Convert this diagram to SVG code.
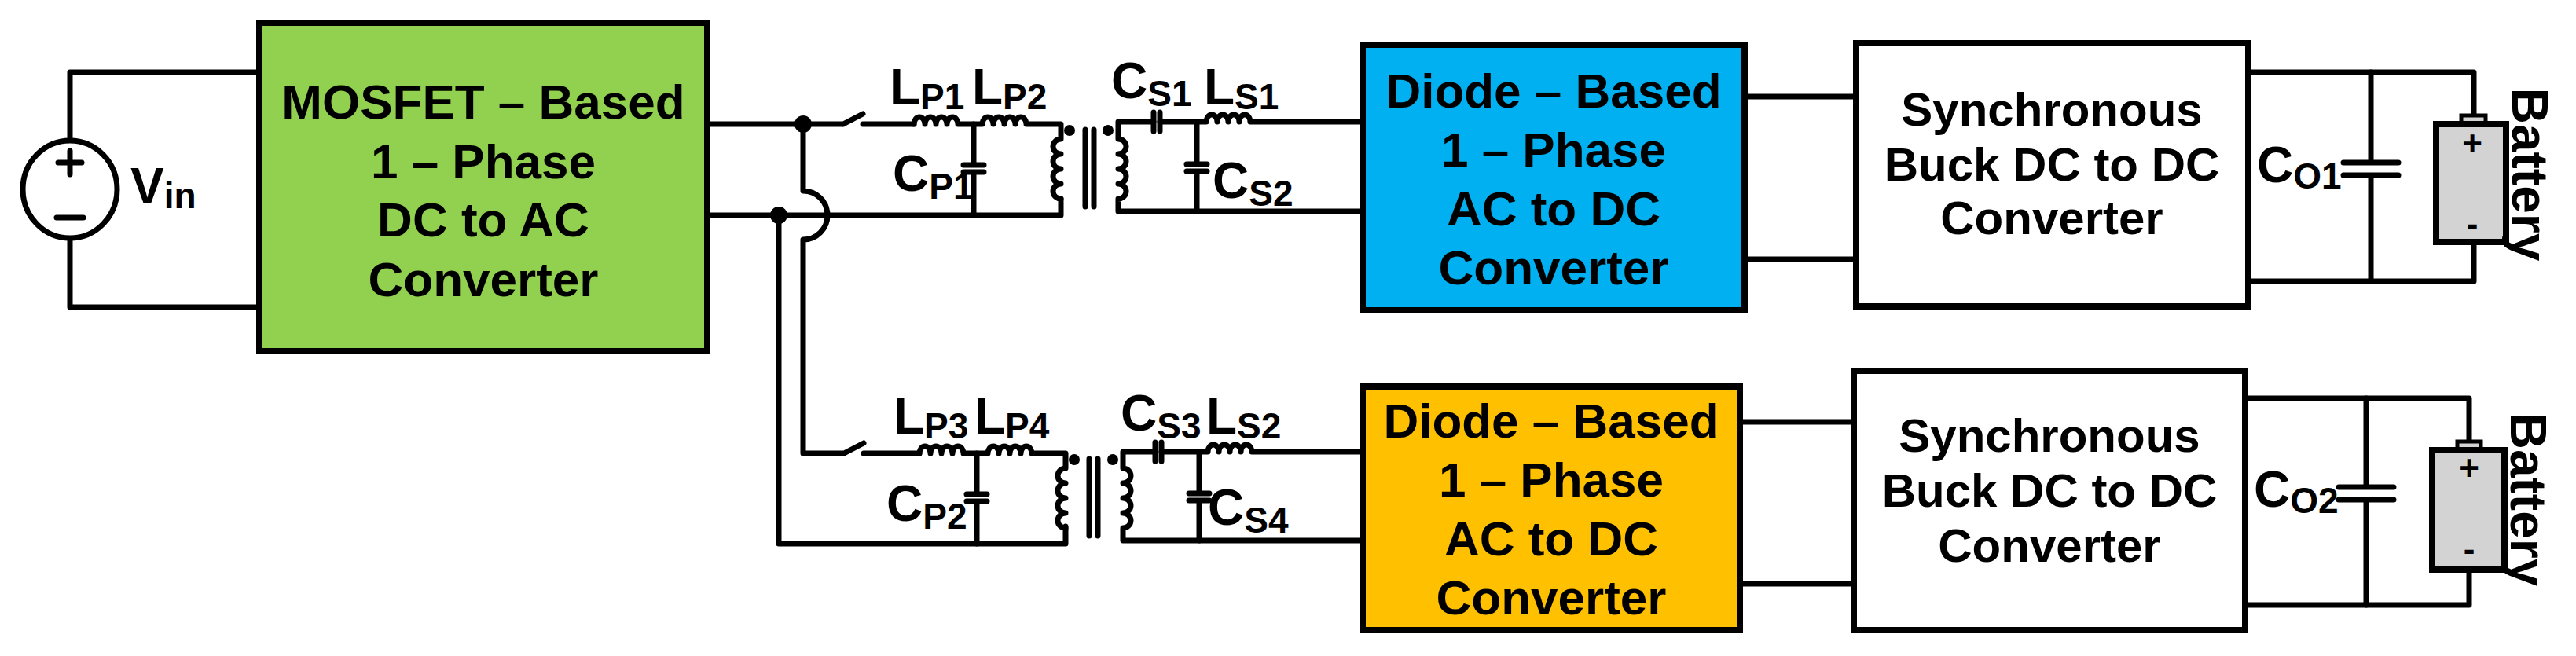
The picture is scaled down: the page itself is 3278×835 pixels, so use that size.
<svg xmlns="http://www.w3.org/2000/svg" width="3278" height="835" viewBox="0 0 3278 835">
<style>
.w{fill:none;stroke:#000;stroke-width:7;stroke-linejoin:round;stroke-linecap:round}
.b{stroke:#000;stroke-width:8}
.t{font-family:"Liberation Sans",Arial,sans-serif;font-weight:bold;font-size:60px;text-anchor:middle;fill:#000}
.l{font-family:"Liberation Sans",Arial,sans-serif;font-weight:bold;font-size:64px;fill:#000}
.s{font-size:46px}
.dot{fill:#000}
</style>
<rect width="3278" height="835" fill="#fff"/>
<g id="connectors">
<path class="w" d="M89,180 V92 H330 M89,303 V391 H330"/>
<path class="w" d="M900,158 H1073 M1098,145 L1073,158 M1098,158 H1163"/>
<path class="w" d="M900,274 H1350 V253"/>
<circle class="dot" cx="1022" cy="158" r="11"/>
<circle class="dot" cx="991" cy="274" r="11"/>
<path class="w" d="M1022,158 V243 A30,30 0 0 1 1022,305 V577 H1074 M1099,564 L1074,577 M1099,577 H1170"/>
<path class="w" d="M991,274 V692 H1356 V670"/>
<path class="w" d="M1163,158 a7,9 0 0 1 14,0 a7,9 0 0 1 14,0 a7,9 0 0 1 14,0 a7,9 0 0 1 14,0 H1250 a7,9 0 0 1 14,0 a7,9 0 0 1 14,0 a7,9 0 0 1 14,0 a7,9 0 0 1 14,0 H1350 V177 a10,9.5 0 0 0 0,19 a10,9.5 0 0 0 0,19 a10,9.5 0 0 0 0,19 a10,9.5 0 0 0 0,19 V253"/>
<path class="w" d="M1239,158 V210 M1239,219 V274 M1226,210 H1252 M1226,219 H1252"/>
<circle class="dot" cx="1361" cy="166" r="7"/>
<path class="w" d="M1381,165 V263 M1392,165 V263"/>
<circle class="dot" cx="1410" cy="166" r="7"/>
<path class="w" d="M1732,155 H1591 a7,9 0 0 0 -14,0 a7,9 0 0 0 -14,0 a7,9 0 0 0 -14,0 a7,9 0 0 0 -14,0 H1476 M1468,155 H1423 V177 a10,9.5 0 0 1 0,19 a10,9.5 0 0 1 0,19 a10,9.5 0 0 1 0,19 a10,9.5 0 0 1 0,19 V269 H1732"/>
<path class="w" d="M1468,143 V167 M1476,143 V167"/>
<path class="w" d="M1523,155 V209 M1523,218 V269 M1510,209 H1536 M1510,218 H1536"/>
<path class="w" d="M1170,577 a7,9 0 0 1 14,0 a7,9 0 0 1 14,0 a7,9 0 0 1 14,0 a7,9 0 0 1 14,0 H1257 a7,9 0 0 1 14,0 a7,9 0 0 1 14,0 a7,9 0 0 1 14,0 a7,9 0 0 1 14,0 H1356 V596 a10,9.5 0 0 0 0,19 a10,9.5 0 0 0 0,19 a10,9.5 0 0 0 0,19 a10,9.5 0 0 0 0,19 V672"/>
<path class="w" d="M1243,577 V629 M1243,638 V692 M1230,629 H1256 M1230,638 H1256"/>
<circle class="dot" cx="1367" cy="585" r="7"/>
<path class="w" d="M1386,584 V682 M1397,584 V682"/>
<circle class="dot" cx="1416" cy="585" r="7"/>
<path class="w" d="M1734,575 H1593 a7,9 0 0 0 -14,0 a7,9 0 0 0 -14,0 a7,9 0 0 0 -14,0 a7,9 0 0 0 -14,0 H1478 M1470,575 H1429 V596 a10,9.5 0 0 1 0,19 a10,9.5 0 0 1 0,19 a10,9.5 0 0 1 0,19 a10,9.5 0 0 1 0,19 V688 H1734"/>
<path class="w" d="M1470,563 V587 M1478,563 V587"/>
<path class="w" d="M1526,575 V628 M1526,637 V688 M1513,628 H1539 M1513,637 H1539"/>
<path class="w" d="M2220,123 H2362 M2220,330 H2362"/>
<path class="w" d="M2214,537 H2359 M2214,743 H2359"/>
<path class="w" d="M2861,92 H3148 V147 M2861,358 H3148 V308"/>
<path class="w" d="M3017,92 V207 M3017,223 V358 M2982,207 H3052 M2982,223 H3052"/>
<path class="w" d="M2857,507 H3142 V562 M2857,770 H3142 V725"/>
<path class="w" d="M3011,507 V620 M3011,636 V770 M2976,620 H3046 M2976,636 H3046"/>
</g>
<g id="vin">
<ellipse cx="89" cy="241" rx="60" ry="62" fill="#fff" stroke="#000" stroke-width="7"/>
<path class="w" d="M89,192 V222 M74,207 H104 M72,277 H106"/>
<text class="l" x="166" y="259">V<tspan class="s" dy="6">in</tspan></text>
</g>
<g id="mosfet">
<rect x="330" y="29" width="570" height="418" fill="#92d050" class="b"/>
<text class="t" style="font-size:62px" x="615" y="151">MOSFET – Based</text>
<text class="t" style="font-size:62px" x="615" y="227">1 – Phase</text>
<text class="t" style="font-size:62px" x="615" y="301">DC to AC</text>
<text class="t" style="font-size:62px" x="615" y="377">Converter</text>
</g>
<g id="labels">
<text class="l" x="1132" y="133">L<tspan class="s" dy="6">P1</tspan></text>
<text class="l" x="1237" y="133">L<tspan class="s" dy="6">P2</tspan></text>
<text class="l" x="1414" y="125">C<tspan class="s" dy="10">S1</tspan></text>
<text class="l" x="1532" y="133">L<tspan class="s" dy="6">S1</tspan></text>
<text class="l" x="1136" y="243">C<tspan class="s" dy="10">P1</tspan></text>
<text class="l" x="1543" y="252">C<tspan class="s" dy="10">S2</tspan></text>
<text class="l" x="1137" y="552">L<tspan class="s" dy="6">P3</tspan></text>
<text class="l" x="1240" y="552">L<tspan class="s" dy="6">P4</tspan></text>
<text class="l" x="1426" y="548">C<tspan class="s" dy="10">S3</tspan></text>
<text class="l" x="1535" y="552">L<tspan class="s" dy="6">S2</tspan></text>
<text class="l" x="1128" y="663">C<tspan class="s" dy="10">P2</tspan></text>
<text class="l" x="1537" y="668">C<tspan class="s" dy="10">S4</tspan></text>
<text class="l" x="2872" y="232">C<tspan class="s" dy="8">O1</tspan></text>
<text class="l" x="2868" y="645">C<tspan class="s" dy="8">O2</tspan></text>
</g>
<g id="diode1">
<rect x="1734" y="57" width="486" height="338" fill="#00b0f0" class="b"/>
<text class="t" style="font-size:62px" x="1977" y="137">Diode – Based</text>
<text class="t" style="font-size:62px" x="1977" y="212">1 – Phase</text>
<text class="t" style="font-size:62px" x="1977" y="287">AC to DC</text>
<text class="t" style="font-size:62px" x="1977" y="362">Converter</text>
</g>
<g id="diode2">
<rect x="1734" y="492" width="480" height="310" fill="#ffc000" class="b"/>
<text class="t" style="font-size:62px" x="1974" y="557">Diode – Based</text>
<text class="t" style="font-size:62px" x="1974" y="632">1 – Phase</text>
<text class="t" style="font-size:62px" x="1974" y="707">AC to DC</text>
<text class="t" style="font-size:62px" x="1974" y="782">Converter</text>
</g>
<g id="buck1">
<rect x="2362" y="55" width="499" height="335" fill="#fff" class="b"/>
<text class="t" x="2611" y="160">Synchronous</text>
<text class="t" x="2611" y="230">Buck DC to DC</text>
<text class="t" x="2611" y="298">Converter</text>
</g>
<g id="buck2">
<rect x="2359" y="472" width="498" height="330" fill="#fff" class="b"/>
<text class="t" x="2608" y="575">Synchronous</text>
<text class="t" x="2608" y="645">Buck DC to DC</text>
<text class="t" x="2608" y="715">Converter</text>
</g>
<g id="battery1">
<rect x="3132" y="147" width="31" height="11" fill="#d3d3d3" stroke="#000" stroke-width="5"/>
<rect x="3100" y="158" width="89" height="150" fill="#d3d3d3" class="b"/>
<text class="t" style="font-size:44px" x="3146" y="198">+</text>
<text class="t" style="font-size:44px" x="3146" y="300">-</text>
<text class="t" style="font-size:64px" transform="translate(3197,222) rotate(90)">Battery</text>
</g>
<g id="battery2">
<rect x="3127" y="562" width="30" height="11" fill="#d3d3d3" stroke="#000" stroke-width="5"/>
<rect x="3095" y="573" width="92" height="152" fill="#d3d3d3" class="b"/>
<text class="t" style="font-size:44px" x="3142" y="611">+</text>
<text class="t" style="font-size:44px" x="3142" y="714">-</text>
<text class="t" style="font-size:64px" transform="translate(3195,636) rotate(90)">Battery</text>
</g>
</svg>
